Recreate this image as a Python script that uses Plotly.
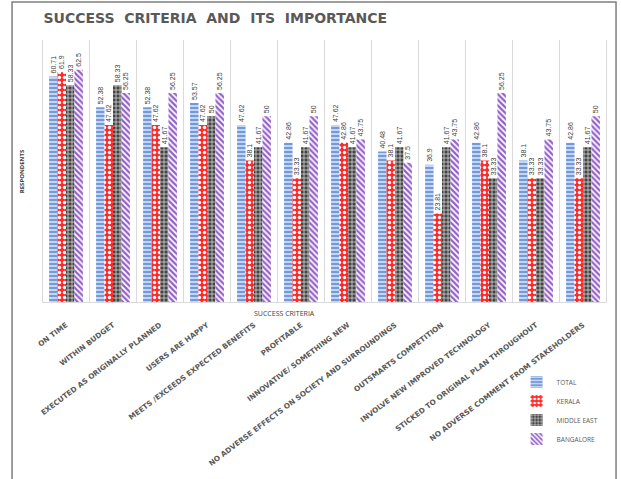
import plotly.graph_objects as go

categories = ["ON TIME", "WITHIN BUDGET", "EXECUTED AS ORIGINALLY PLANNED", "USERS ARE HAPPY",
              "MEETS /EXCEEDS EXPECTED BENEFITS", "PROFITABLE", "INNOVATIVE/ SOMETHING NEW",
              "NO ADVERSE EFFECTS ON SOCIETY AND SURROUNDINGS", "OUTSMARTS COMPETITION",
              "INVOLVE NEW IMPROVED TECHNOLOGY", "STICKED TO ORIGINAL PLAN THROUGHOUT",
              "NO ADVERSE COMMENT FROM STAKEHOLDERS"]
total = [60.71, 52.38, 52.38, 53.57, 47.62, 42.86, 47.62, 40.48, 36.90, 42.86, 38.10, 42.86]
kerala = [61.90, 47.62, 47.62, 47.62, 38.10, 33.33, 42.86, 38.10, 23.81, 38.10, 33.33, 33.33]
middle_east = [58.33, 58.33, 41.67, 50, 41.67, 41.67, 41.67, 41.67, 41.67, 33.33, 33.33, 41.67]
bangalore = [62.5, 56.25, 56.25, 56.25, 50, 50, 43.75, 37.5, 43.75, 56.25, 43.75, 50]

series = [
    ("TOTAL", total, dict(color="#7199DB", pattern=dict(shape="-", fgcolor="white", bgcolor="#7199DB", size=4, solidity=0.3, fillmode="replace"))),
    ("KERALA", kerala, dict(color="#FF2A2A", pattern=dict(shape=".", fgcolor="white", bgcolor="#FF2A2A", size=5, solidity=0.35, fillmode="replace"))),
    ("MIDDLE EAST", middle_east, dict(color="#444444", pattern=dict(shape="+", fgcolor="#D8D8D8", bgcolor="#444444", size=4, solidity=0.35, fillmode="replace"))),
    ("BANGALORE", bangalore, dict(color="#9460CC", pattern=dict(shape="\\", fgcolor="#9460CC", bgcolor="white", size=4, solidity=0.55, fillmode="replace"))),
]

fig = go.Figure()
for name, vals, marker in series:
    fig.add_trace(go.Bar(
        x=categories, y=vals, name=name,
        marker=dict(line=dict(width=0), **marker),
        text=[f"{v:g}" for v in vals], textposition="outside", textangle=-90,
        constraintext="none",
        textfont=dict(size=7, color="#404040", family="Liberation Sans Narrow, Liberation Sans"),
        cliponaxis=False,
    ))

n = len(categories)
shapes = [dict(type="line", xref="x", yref="paper", x0=k - 0.5, x1=k - 0.5, y0=0, y1=1,
               line=dict(color="#D9D9D9", width=1)) for k in range(n + 1)]
shapes.append(dict(type="rect", xref="paper", yref="paper", x0=-0.053, x1=1.016, y0=-0.75, y1=1.145,
                   line=dict(color="#7F7F7F", width=1.5), fillcolor="rgba(0,0,0,0)", layer="below"))

fig.update_layout(
    width=621, height=479,
    margin=dict(l=42, r=14, t=40, b=177, autoexpand=False),
    paper_bgcolor="white", plot_bgcolor="white",
    barmode="group", bargap=0.28, bargroupgap=0,
    showlegend=True,
    legend=dict(x=0.84, y=-0.25, xanchor="left", yanchor="top", orientation="v",
                font=dict(size=6.5, color="#595959", family="Open Sans"), tracegroupgap=0,
                itemwidth=30, bgcolor="rgba(0,0,0,0)"),
    title=dict(text="<b>SUCCESS  CRITERIA  AND  ITS  IMPORTANCE</b>", x=0.07, xanchor="left", y=0.972,
               font=dict(size=14, color="#595959", family="DejaVu Sans")),
    xaxis=dict(tickangle=-37, tickfont=dict(size=7.3, color="#595959", family="DejaVu Sans", weight="bold"),
               ticklabelstandoff=15, automargin=False,
               showgrid=False, showline=True, linecolor="#D9D9D9", ticks=""),
    yaxis=dict(range=[0, 70.5], showticklabels=False, showgrid=False, zeroline=False, ticks="",
               automargin=False),
    shapes=shapes,
    annotations=[
        dict(text="SUCCESS CRITERIA", xref="paper", yref="paper", x=0.43, y=-0.02, yanchor="top",
             xanchor="center",
             showarrow=False, font=dict(size=7, color="#404040", family="Open Sans")),
        dict(text="<b>RESPONDENTS</b>", xref="paper", yref="paper", x=-0.035, y=0.5, textangle=-90,
             xanchor="center", yanchor="middle",
             showarrow=False, font=dict(size=6, color="#404040", family="Open Sans")),
    ],
)

fig.write_html("out.html")
